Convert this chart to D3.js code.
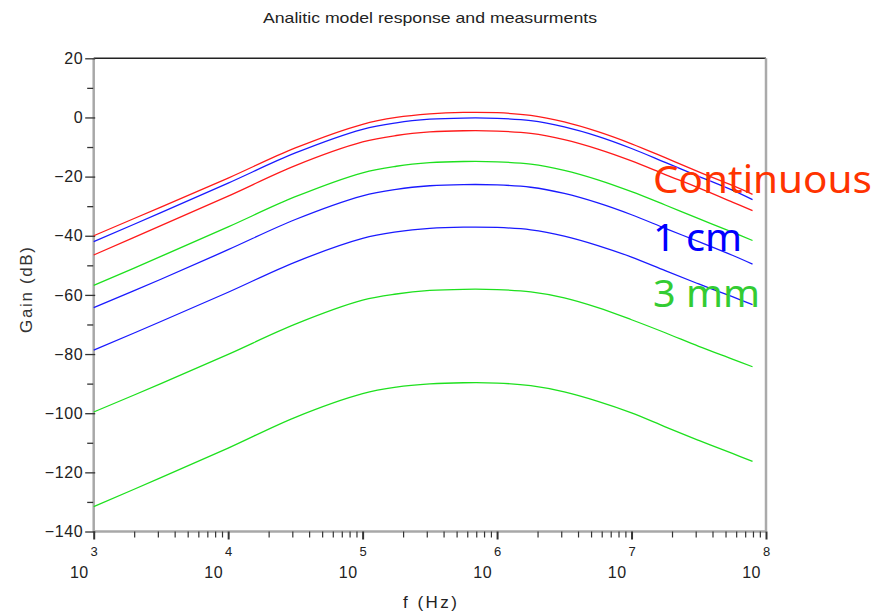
<!DOCTYPE html>
<html>
<head>
<meta charset="utf-8">
<script src="https://cdn.jsdelivr.net/npm/d3@7"></script>
<style>
  html, body { margin: 0; padding: 0; background: #fff; }
  svg { display: block; }
</style>
</head>
<body>
<svg id="chart" width="877" height="613"></svg>
<script>
// ---- Data ----
const freqs = [1e3, 3.16e3, 1e4, 3.16e4, 1e5, 1.78e5, 3.16e5, 5.62e5, 1e6, 1.78e6, 3.16e6, 5.62e6, 1e7, 1.78e7, 3.16e7, 5.62e7, 7.94e7];

const continuousA = [-40.0, -30.3, -20.5, -10.3, -2.3, 0.0, 1.2, 1.7, 1.6, 0.7, -1.5, -4.8, -8.9, -13.6, -18.4, -23.0, -26.0];
const cm1A        = [-42.0, -32.2, -22.2, -12.0, -4.0, -1.8, -0.6, -0.2, -0.3, -1.1, -3.2, -6.4, -10.5, -15.2, -19.9, -24.6, -27.8];
const continuousB = [-46.5, -36.6, -26.6, -16.3, -8.3, -6.1, -4.9, -4.5, -4.6, -5.4, -7.5, -10.7, -14.7, -19.3, -23.8, -28.6, -31.5];
const mm3A        = [-56.8, -47.0, -37.0, -26.8, -18.7, -16.5, -15.3, -14.9, -15.0, -15.8, -17.9, -21.1, -25.1, -29.6, -34.2, -38.8, -41.6];
const cm1B        = [-64.3, -54.7, -44.7, -34.5, -26.5, -24.3, -23.1, -22.7, -22.8, -23.6, -25.7, -28.9, -32.9, -37.5, -42.0, -46.6, -49.6];
const cm1C        = [-78.7, -69.0, -59.1, -48.9, -40.9, -38.7, -37.5, -37.1, -37.2, -38.0, -40.1, -43.3, -47.2, -51.8, -56.3, -60.6, -63.3];
const mm3B        = [-99.6, -90.0, -80.1, -69.9, -61.8, -59.7, -58.5, -58.1, -58.2, -59.0, -61.0, -64.3, -68.4, -72.8, -77.4, -81.7, -84.3];
const mm3C        = [-131.6, -121.8, -111.8, -101.4, -93.4, -91.2, -90.1, -89.7, -89.8, -90.7, -92.8, -96.0, -99.9, -104.6, -109.2, -113.6, -116.3];

const yMajorTicks = [20, 0, -20, -40, -60, -80, -100, -120, -140];
const yMinorTicks = [10, -10, -30, -50, -70, -90, -110, -130];
const xMajorTicks = [1e3, 1e4, 1e5, 1e6, 1e7, 1e8];
const xExponents  = ["3", "4", "5", "6", "7", "8"];

const legendLabels = ["Continuous", "1 cm", "3 mm"];
const legendColors = ["#ff3300", "#0000ff", "#33cc33"];

const chartTitle = "Analitic model response and measurments";
const yLabel = "Gain (dB)";
const xLabel = "f (Hz)";

const series = [
  { values: continuousA, color: "#ff1a1a" },
  { values: cm1A,        color: "#1a1aff" },
  { values: continuousB, color: "#ff1a1a" },
  { values: mm3A,        color: "#1ee01e" },
  { values: cm1B,        color: "#1a1aff" },
  { values: cm1C,        color: "#1a1aff" },
  { values: mm3B,        color: "#1ee01e" },
  { values: mm3C,        color: "#1ee01e" }
];

// ---- Layout ----
const pL = 93.7, pR = 766, pT = 58.3, pB = 531.5;
const baseFont = "'Liberation Sans', Arial, sans-serif";
const svg = d3.select("#chart");

const x = d3.scaleLog().domain([1e3, 1e8]).range([pL, pR]);
const y = d3.scaleLinear().domain([-140, 20]).range([pB, pT]);

// Title
svg.append("text")
  .attr("x", 430).attr("y", 23)
  .attr("text-anchor", "middle")
  .style("font-family", baseFont)
  .style("font-size", "15px")
  .attr("textLength", 334).attr("lengthAdjust", "spacingAndGlyphs")
  .attr("fill", "#222")
  .text(chartTitle);

// Frame lines
svg.append("line").attr("x1", pL).attr("x2", pR).attr("y1", pT).attr("y2", pT)
  .attr("stroke", "#222").attr("stroke-width", 1.5);
svg.append("line").attr("x1", pR).attr("x2", pR).attr("y1", pT).attr("y2", pB)
  .attr("stroke", "#aaa").attr("stroke-width", 2.5);
svg.append("line").attr("x1", pL).attr("x2", pL).attr("y1", pT).attr("y2", pB + 1)
  .attr("stroke", "#a8a8a8").attr("stroke-width", 2.5);
svg.append("line").attr("x1", pL).attr("x2", pR).attr("y1", pB).attr("y2", pB)
  .attr("stroke", "#a8a8a8").attr("stroke-width", 2.5);

// Y axis major
const yAxisG = svg.append("g").attr("transform", `translate(${pL + 1.5},0)`)
  .call(d3.axisLeft(y).tickValues(yMajorTicks).tickSize(10).tickPadding(2).tickFormat(d3.format("d")));
yAxisG.select(".domain").remove();
yAxisG.selectAll(".tick line").attr("stroke", "#333").attr("stroke-width", 1.3);
yAxisG.selectAll(".tick text")
  .attr("fill", "#222")
  .style("font-family", baseFont).style("font-size", "16px").style("letter-spacing", "0.6px");

// Y axis minor
const yMinorG = svg.append("g").attr("transform", `translate(${pL - 0.5},0)`)
  .call(d3.axisLeft(y).tickValues(yMinorTicks).tickSize(6).tickFormat(""));
yMinorG.select(".domain").remove();
yMinorG.selectAll(".tick line").attr("stroke", "#333").attr("stroke-width", 1.3);

// X axis minor
const xMinor = [];
xMajorTicks.slice(0, -1).forEach(p => { for (let k = 2; k <= 9; k++) xMinor.push(p * k); });
const xMinorG = svg.append("g").attr("transform", `translate(0,${pB})`)
  .call(d3.axisBottom(x).tickValues(xMinor).tickSize(6).tickFormat(""));
xMinorG.select(".domain").remove();
xMinorG.selectAll(".tick line").attr("stroke", "#333").attr("stroke-width", 1.2);

// X axis major
const xAxisG = svg.append("g").attr("transform", `translate(0,${pB})`)
  .call(d3.axisBottom(x).tickValues(xMajorTicks).tickSize(8).tickFormat(""));
xAxisG.select(".domain").remove();
xAxisG.selectAll(".tick line").attr("stroke", "#333").attr("stroke-width", 2);
xAxisG.selectAll(".tick").each(function(d, i) {
  const g = d3.select(this);
  g.append("text")
    .attr("x", 0).attr("y", 24.5)
    .attr("text-anchor", "middle")
    .attr("fill", "#222")
    .style("font-family", baseFont).style("font-size", "13px")
    .text(xExponents[i]);
  g.append("text")
    .attr("x", -5.5).attr("y", 46)
    .attr("text-anchor", "end")
    .attr("fill", "#222")
    .style("font-family", baseFont).style("font-size", "16px").style("letter-spacing", "0.5px")
    .text("10");
});

// Axis labels
svg.append("text")
  .attr("transform", "translate(32,290) rotate(-90)")
  .attr("text-anchor", "middle")
  .attr("fill", "#333")
  .style("font-family", baseFont).style("font-size", "17px")
  .attr("textLength", 86).attr("lengthAdjust", "spacing")
  .text(yLabel);
svg.append("text")
  .attr("x", 430).attr("y", 608)
  .attr("text-anchor", "middle")
  .attr("fill", "#222")
  .style("font-family", baseFont).style("font-size", "17px")
  .attr("textLength", 54).attr("lengthAdjust", "spacing")
  .text(xLabel);

// Curves
const line = d3.line()
  .x((d, i) => x(freqs[i]))
  .y(d => y(d))
  .curve(d3.curveCatmullRom.alpha(0.5));

svg.append("g").selectAll("path")
  .data(series)
  .join("path")
  .attr("d", s => line(s.values))
  .attr("fill", "none")
  .attr("stroke", s => s.color)
  .attr("stroke-width", 1.3);

// Legend text
const legendY = [193, 251, 307];
const legendW = [219, 89, 107];
svg.append("g").selectAll("text")
  .data(legendLabels)
  .join("text")
  .attr("x", 653)
  .attr("y", (d, i) => legendY[i])
  .style("font-family", "'Noto Sans', 'Open Sans', sans-serif")
  .style("font-size", "39px")
  .attr("fill", (d, i) => legendColors[i])
  .attr("textLength", (d, i) => legendW[i])
  .attr("lengthAdjust", "spacingAndGlyphs")
  .text(d => d);
</script>
</body>
</html>
